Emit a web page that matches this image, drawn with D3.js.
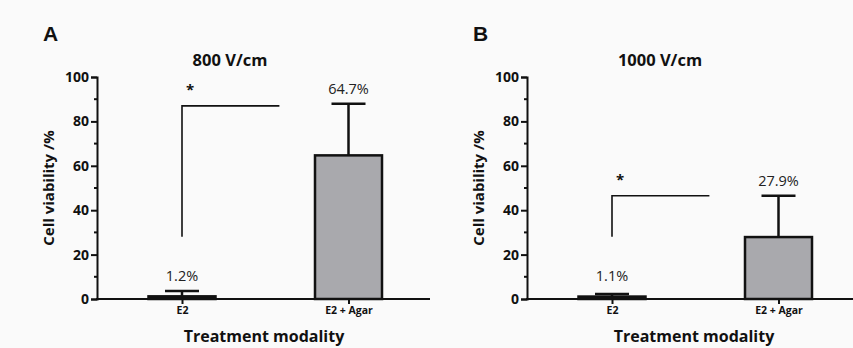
<!DOCTYPE html>
<html>
<head>
<meta charset="utf-8">
<script src="https://cdn.jsdelivr.net/npm/d3@7"></script>
<style>
  body { margin: 0; background: #fafafa; }
  svg { display: block; }
</style>
</head>
<body>
<div id="chart"></div>
<script>
// chart values
var panelLetters = ["A", "B"];
var panelTitles = ["800 V/cm", "1000 V/cm"];
var categories = ["E2", "E2 + Agar"];
var meansA = [1.2, 64.7];
var sdA = [2.4, 23.3];
var meansB = [1.1, 27.9];
var sdB = [1.2, 18.6];
var bracketLow = [28, 28];
var bracketHigh = [87, 46.5];
var yTicks = [0, 20, 40, 60, 80, 100];

var W = 853, H = 348;
var svg = d3.select("#chart").append("svg")
    .attr("width", W).attr("height", H);

svg.append("rect").attr("width", W).attr("height", H).attr("fill", "#fafafa");

var panels = [
    { letter: panelLetters[0], title: panelTitles[0], means: meansA, sd: sdA, lo: bracketLow[0], hi: bracketHigh[0], x0: 0 },
    { letter: panelLetters[1], title: panelTitles[1], means: meansB, sd: sdB, lo: bracketLow[1], hi: bracketHigh[1], x0: 430 }
];

var font = "'Open Sans', 'DejaVu Sans', sans-serif";

panels.forEach(function (p) {
    var g = svg.append("g").attr("transform", "translate(" + p.x0 + ",0)");
    var axisLeft = 97, axisRight = p.x0 === 0 ? 430 : 423;

    var y = d3.scaleLinear().domain([0, 100]).range([299, 77]);
    var x = d3.scalePoint().domain(categories).range([182, 348.5]);
    var barW = 67;

    // panel letter
    g.append("text")
        .attr("x", 43).attr("y", 41)
        .attr("font-family", "'Liberation Sans', Arial, sans-serif")
        .attr("font-weight", "bold").attr("font-size", 21)
        .attr("fill", "#111")
        .text(p.letter);

    // title
    g.append("text")
        .attr("x", 230).attr("y", 66)
        .attr("text-anchor", "middle")
        .attr("font-family", font).attr("font-weight", "bold").attr("font-size", 16.5)
        .attr("fill", "#111")
        .text(p.title);

    // bars
    g.selectAll("rect.bar").data(p.means).enter().append("rect")
        .attr("class", "bar")
        .attr("x", function (d, i) { return x(categories[i]) - barW / 2; })
        .attr("y", function (d) { return y(d); })
        .attr("width", barW)
        .attr("height", function (d) { return y(0) - y(d); })
        .attr("fill", function (d, i) { return i === 0 ? "#111" : "#a9a9ad"; })
        .attr("stroke", "#111").attr("stroke-width", 2.5);

    // error bars
    var capW = 34;
    p.means.forEach(function (m, i) {
        var cx = x(categories[i]);
        var top = y(m + p.sd[i]);
        g.append("line")
            .attr("x1", cx).attr("x2", cx)
            .attr("y1", y(m)).attr("y2", top)
            .attr("stroke", "#111").attr("stroke-width", 2.5);
        g.append("line")
            .attr("x1", cx - capW / 2).attr("x2", cx + capW / 2)
            .attr("y1", top).attr("y2", top)
            .attr("stroke", "#111").attr("stroke-width", 2.5);
        // percent label
        g.append("text")
            .attr("x", cx).attr("y", Math.min(top - 10, 281))
            .attr("text-anchor", "middle")
            .attr("font-family", font).attr("font-size", 14.5)
            .attr("fill", "#222")
            .text(m.toFixed(1) + "%");
    });

    // significance bracket
    var bx = x(categories[0]);
    var bx2 = bx + 0.585 * (x(categories[1]) - x(categories[0]));
    g.append("path")
        .attr("d", "M" + bx + "," + y(p.lo) + "V" + y(p.hi) + "H" + bx2)
        .attr("fill", "none").attr("stroke", "#111").attr("stroke-width", 1.6);
    g.append("text")
        .attr("x", bx + 8).attr("y", y(p.hi) - 11)
        .attr("text-anchor", "middle")
        .attr("font-family", font).attr("font-weight", "bold").attr("font-size", 15)
        .attr("fill", "#111")
        .text("*");

    // y axis
    var yAxis = d3.axisLeft(y).tickValues(yTicks).tickSize(6).tickPadding(2);
    var ya = g.append("g").attr("transform", "translate(" + axisLeft + ",0)").call(yAxis);
    ya.select(".domain").attr("stroke", "#111").attr("stroke-width", 2);
    ya.selectAll(".tick line").attr("stroke", "#111").attr("stroke-width", 2);
    ya.selectAll(".tick text")
        .attr("font-family", font).attr("font-weight", "bold").attr("font-size", 14)
        .attr("fill", "#111");
    // minor ticks
    ya.selectAll(".minor").data(d3.range(10, 100, 20)).enter().append("line")
        .attr("class", "minor")
        .attr("x1", -3).attr("x2", 0)
        .attr("y1", function (d) { return y(d); }).attr("y2", function (d) { return y(d); })
        .attr("stroke", "#111").attr("stroke-width", 2);

    // x axis
    g.append("line")
        .attr("x1", axisLeft - 1).attr("x2", axisRight)
        .attr("y1", y(0)).attr("y2", y(0))
        .attr("stroke", "#111").attr("stroke-width", 2);
    var xAxis = d3.axisBottom(x).tickSize(5).tickPadding(3);
    var xa = g.append("g").attr("transform", "translate(0," + y(0) + ")").call(xAxis);
    xa.select(".domain").remove();
    xa.selectAll(".tick line").attr("stroke", "#111").attr("stroke-width", 2);
    xa.selectAll(".tick text")
        .attr("font-family", font).attr("font-weight", "bold").attr("font-size", 10.5)
        .attr("fill", "#111");

    // axis titles
    g.append("text")
        .attr("transform", "translate(54,188) rotate(-90)")
        .attr("text-anchor", "middle")
        .attr("font-family", font).attr("font-weight", "bold").attr("font-size", 15)
        .attr("fill", "#111")
        .text("Cell viability /%");
    g.append("text")
        .attr("x", 264).attr("y", 342)
        .attr("text-anchor", "middle")
        .attr("font-family", font).attr("font-weight", "bold").attr("font-size", 16)
        .attr("fill", "#111")
        .text("Treatment modality");
});
</script>
</body>
</html>
